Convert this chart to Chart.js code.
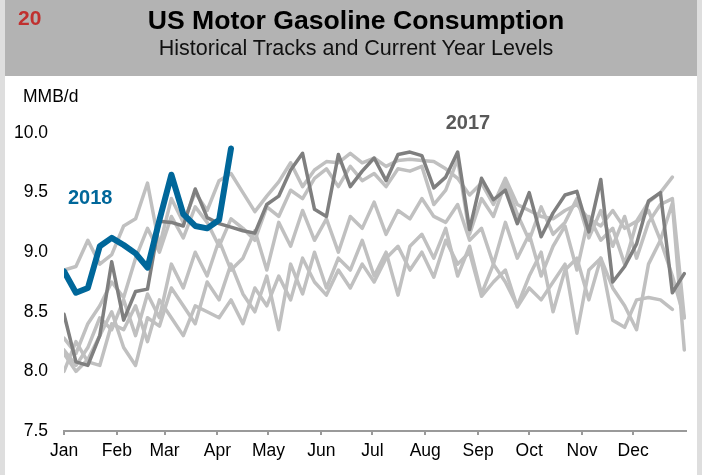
<!DOCTYPE html>
<html>
<head>
<meta charset="utf-8">
<script src="https://cdn.jsdelivr.net/npm/chart.js@4.4.1/dist/chart.umd.min.js"></script>
<style>
  html, body { margin: 0; padding: 0; background: #fff; }
  body { width: 702px; height: 475px; position: relative; overflow: hidden; font-family: "Liberation Sans", Arial, sans-serif; }
  .strip { position: absolute; top: 0; width: 5px; height: 475px; background: #dedede; }
  #header { position: absolute; left: 5px; top: 0; width: 692px; height: 76px; background: #b3b3b3; }
  #num { position: absolute; left: 13px; top: 6px; color: #c0302f; font-weight: bold; font-size: 21px; }
  #title { position: absolute; left: 0; width: 712px; top: 5px; text-align: center; font-weight: bold; font-size: 26.6px; color: #000; }
  #subtitle { position: absolute; left: 0; width: 712px; top: 36px; text-align: center; font-size: 21.5px; color: #111; }
  #unit { position: absolute; left: 23px; top: 86px; font-size: 17.5px; color: #000; }
  canvas { position: absolute; left: 0; top: 0; }
</style>
</head>
<body>
<canvas id="chart" width="702" height="475"></canvas>
<div class="strip" style="left:0"></div>
<div class="strip" style="left:697px"></div>
<div id="header">
  <div id="num">20</div>
</div>
<div id="title">US Motor Gasoline Consumption</div>
<div id="subtitle">Historical Tracks and Current Year Levels</div>
<div id="unit">MMB/d</div>
<script>
// month labels and the day of year each one starts on
const months = ["Jan", "Feb", "Mar", "Apr", "May", "Jun", "Jul", "Aug", "Sep", "Oct", "Nov", "Dec"];
const monthStart = [0, 31, 59, 90, 120, 151, 181, 212, 243, 273, 304, 334];
const yTicks = [7.5, 8.0, 8.5, 9.0, 9.5, 10.0];

// weekly gasoline demand, MMB/d
const y2018 = [8.84, 8.66, 8.70, 9.05, 9.12, 9.06, 8.99, 8.87, 9.27, 9.65, 9.32, 9.22, 9.20, 9.27, 9.87];
const y2017 = [8.48, 8.08, 8.05, 8.30, 8.92, 8.43, 8.67, 8.69, 9.26, 9.25, 9.22, 9.53, 9.29, 9.24, 9.21,
  9.18, 9.16, 9.40, 9.47, 9.69, 9.83, 9.36, 9.30, 9.82, 9.55, 9.68, 9.79, 9.60, 9.82, 9.84, 9.81,
  9.54, 9.63, 9.84, 9.19, 9.62, 9.44, 9.52, 9.24, 9.50, 9.13, 9.33, 9.48, 9.51, 9.17, 9.61, 8.75,
  8.88, 9.07, 9.43, 9.50, 8.66, 8.82];
const y2016 = [8.85, 8.88, 9.10, 8.90, 8.98, 9.22, 9.28, 9.58, 9.05, 9.45, 9.25, 9.50, 9.35, 9.60, 9.66,
  9.50, 9.34, 9.47, 9.59, 9.75, 9.55, 9.69, 9.76, 9.75, 9.83, 9.75, 9.79, 9.72, 9.77, 9.78, 9.77,
  9.76, 9.70, 9.62, 9.48, 9.58, 9.40, 9.62, 9.40, 9.35, 9.30, 9.28, 9.35, 9.40, 9.28, 9.22, 9.35,
  9.20, 9.26, 9.42, 9.50, 9.63];
const y2015 = [8.28, 8.15, 8.40, 8.55, 8.75, 8.62, 8.95, 9.20, 9.00, 9.30, 9.12, 9.38, 9.25, 9.05, 9.28,
  9.20, 9.10, 9.38, 9.30, 9.52, 9.45, 9.62, 9.70, 9.55, 9.72, 9.60, 9.66, 9.55, 9.70, 9.68, 9.72,
  9.40, 9.52, 9.78, 9.15, 9.45, 9.30, 9.58, 9.32, 9.10, 9.38, 9.15, 9.25, 9.45, 9.12, 9.35, 9.05,
  9.30, 8.95, 9.25, 9.40, 9.45, 8.45];
const y2014 = [8.18, 8.05, 8.20, 8.45, 8.35, 8.60, 8.30, 8.65, 8.45, 8.90, 8.70, 9.00, 8.80, 9.10, 8.85,
  8.95, 9.18, 8.85, 9.25, 9.05, 9.35, 9.10, 9.28, 9.00, 9.30, 9.20, 9.42, 9.15, 9.35, 9.28, 9.45,
  9.30, 9.25, 9.40, 9.10, 9.20, 8.90, 9.25, 8.95, 9.15, 8.80, 9.05, 9.22, 8.85, 9.30, 9.10, 9.20,
  8.90, 9.25, 9.35, 9.10, 9.41, 8.18];
const y2013 = [8.15, 8.00, 8.10, 8.30, 8.50, 8.20, 8.05, 8.45, 8.38, 8.70, 8.55, 8.40, 8.75, 8.60, 8.90,
  8.65, 8.50, 8.80, 8.35, 8.90, 8.65, 9.00, 8.70, 8.95, 8.85, 9.10, 8.80, 9.00, 8.64, 9.05, 9.15,
  8.95, 9.20, 8.80, 9.05, 8.65, 8.90, 8.75, 8.55, 8.80, 9.00, 8.50, 8.85, 8.95, 8.60, 8.95, 8.43,
  8.37, 8.60, 8.62, 8.60, 8.52];
const y2012 = [8.00, 8.25, 8.08, 8.05, 8.40, 8.35, 8.55, 8.25, 8.60, 8.45, 8.30, 8.55, 8.50, 8.45, 8.60,
  8.40, 8.70, 8.55, 8.80, 8.60, 8.95, 8.75, 8.64, 8.85, 8.70, 8.90, 8.75, 8.95, 9.05, 8.85, 9.00,
  8.79, 9.10, 8.90, 9.00, 8.63, 8.75, 8.85, 8.54, 8.70, 8.60, 8.75, 8.90, 8.32, 8.85, 8.95, 8.70,
  8.55, 8.35, 8.90, 9.10, 8.80, 8.45];

const BLUE = "#00679a";
const DARK = "#7f7f7f";
const LIGHT = "#c0c0c0";
const FONT = "'Liberation Sans', Arial, sans-serif";

function weekly(values) {
  return values.map((v, i) => ({ x: i * 7, y: v }));
}

function line(label, values, color, width, order) {
  return {
    label: label,
    data: weekly(values),
    borderColor: color,
    borderWidth: width,
    pointRadius: 0,
    tension: 0,
    fill: false,
    borderCapStyle: "round",
    borderJoinStyle: "round",
    order: order
  };
}

// year labels next to the highlighted tracks, placed in data units
const yearLabels = [
  { text: "2018", day: 2.3, value: 9.45, color: BLUE },
  { text: "2017", day: 224, value: 10.08, color: "#595959" }
];

const yearLabelPlugin = {
  id: "yearLabels",
  afterDatasetsDraw(chart) {
    const ctx = chart.ctx;
    const xs = chart.scales.x;
    const ys = chart.scales.y;
    ctx.save();
    ctx.font = "bold 20px " + FONT;
    ctx.textAlign = "left";
    ctx.textBaseline = "middle";
    yearLabels.forEach(l => {
      ctx.fillStyle = l.color;
      ctx.fillText(l.text, xs.getPixelForValue(l.day), ys.getPixelForValue(l.value));
    });
    ctx.restore();
  }
};

new Chart(document.getElementById("chart"), {
  type: "line",
  data: {
    datasets: [
      line("2018", y2018, BLUE, 6, 0),
      line("2017", y2017, DARK, 3.5, 1),
      line("2016", y2016, LIGHT, 3.5, 2),
      line("2015", y2015, LIGHT, 3.5, 2),
      line("2014", y2014, LIGHT, 3.5, 2),
      line("2013", y2013, LIGHT, 3.5, 2),
      line("2012", y2012, LIGHT, 3.5, 2)
    ]
  },
  options: {
    responsive: false,
    animation: false,
    layout: { padding: { left: 0, right: 16, top: 133, bottom: 0 } },
    plugins: {
      legend: { display: false },
      tooltip: { enabled: false }
    },
    scales: {
      x: {
        type: "linear",
        min: 0,
        max: 365,
        afterBuildTicks: s => { s.ticks = monthStart.map(v => ({ value: v })); },
        afterFit: s => { s.height = 44; },
        border: { display: true, color: "#9a9a9a", width: 2 },
        grid: { display: true, drawOnChartArea: false, drawTicks: true, tickLength: 4, color: "#9a9a9a", lineWidth: 2 },
        ticks: {
          autoSkip: false,
          maxRotation: 0,
          padding: 6,
          color: "#000",
          font: { family: FONT, size: 17.5 },
          callback: v => months[monthStart.indexOf(v)]
        }
      },
      y: {
        min: 7.5,
        max: 10.0,
        afterBuildTicks: s => { s.ticks = yTicks.map(v => ({ value: v })); },
        afterFit: s => { s.width = 64; },
        border: { display: false },
        grid: { display: false, drawTicks: false },
        ticks: {
          padding: 16,
          color: "#000",
          font: { family: FONT, size: 17.5 },
          callback: v => v.toFixed(1)
        }
      }
    }
  },
  plugins: [yearLabelPlugin]
});
</script>
</body>
</html>
